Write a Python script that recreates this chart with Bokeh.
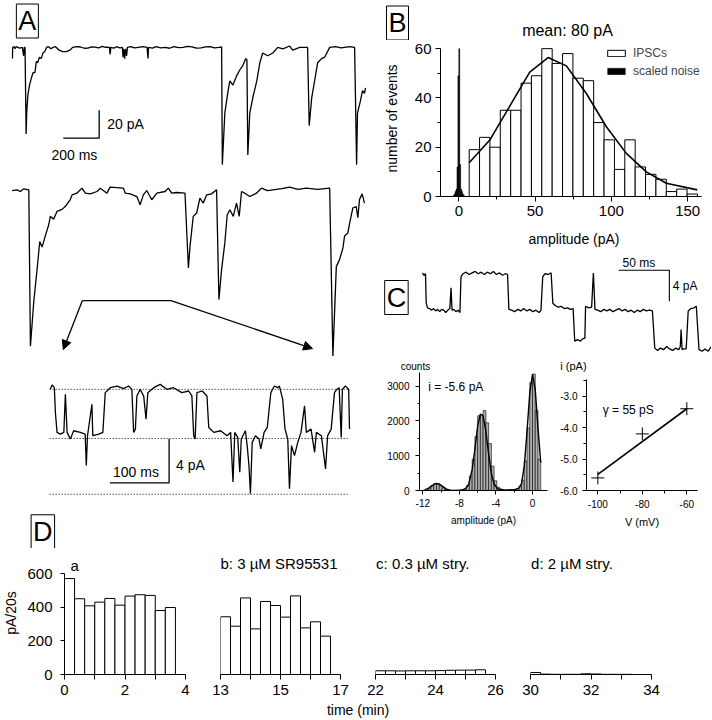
import numpy as np
from bokeh.plotting import figure
from bokeh.models import (Range1d, Label, FixedTicker, Legend, LegendItem,
                          Arrow, NormalHead, PrintfTickFormatter)
from bokeh.layouts import row, column
from bokeh.embed import file_html
from bokeh.resources import INLINE

FONT = "Liberation Sans"

# ======================= DATA =======================
# Panel A: IPSC traces (time in ms, current in pA)
A_ROW1 = [(0,-8),(1,0),(10,0.5),(14,-1),(20,0.5),(40,-0.5),(55,0),(62,-6),(66,0),(70,0),
          (76,-62),(80,-45),(86,-34),(95,-27),(105,-22),(115,-18),(125,-18),(133,-10),(140,-11),
          (150,-7),(160,-8),(170,-4),(180,-3),(190,0),(200,0.5),(215,-1),(225,0),(240,0.5),
          (260,-2),(280,-3),(300,-3),(320,-2),(335,0),(360,0.5),(380,0.3),(400,-0.6),(420,-0.5),
          (440,0.4),(460,0.2),(480,-0.4),(500,0.8),(520,0.1),(540,0),(544,-5),(548,0),(565,-0.5),
          (580,0.5),(598,-0.3),(612,0),(616,-7),(620,-1),(625,-8),(630,-1),(636,-6),(640,0),
          (660,0.5),(680,-0.4),(700,0),(725,0.6),(750,0),(755,-8),(758,0),(780,-0.5),(800,0.5),
          (825,-0.3),(850,0),(875,-0.6),(900,0.6),(925,-0.2),(950,0),(975,0.7),(1000,0.4),
          (1025,-0.5),(1050,-0.3),(1075,0.4),(1100,0.5),(1125,-0.4),(1150,0),(1165,0.3),
          (1169,-84),(1183,-47),(1200,-32),(1211,-24),(1228,-27),(1250,-20),(1267,-16),
          (1283,-13),(1300,-8),(1306,-9),(1311,-77),(1322,-47),(1339,-36),(1361,-24),(1378,-11),
          (1394,-4),(1422,-6),(1450,-4),(1478,0),(1506,-1),(1544,1),(1561,-2),(1600,0),(1644,0),
          (1653,-56),(1667,-36),(1683,-24),(1700,-11),(1722,-8),(1739,-7),(1767,0),(1800,0.5),
          (1830,-0.4),(1850,0),(1880,0.5),(1906,0),(1917,-84),(1922,-47),(1939,-38),(1950,-31),
          (1961,-33),(1967,-29)]
A_ROW2 = [(-2,-0.5),(26,0),(44,-1.2),(63,0.7),(91,0),(100,-112),(118,-81),(137,-57),(152,-37),
          (165,-41),(183,-33),(202,-25),(211,-19),(229,-21),(248,-15.5),(276,-14),(294,-12),
          (322,-7),(332,-3.6),(359,-2.4),(387,1.2),(406,-2.4),(433,-2.9),(471,-1.2),(489,1.2),
          (526,-2.4),(544,1.9),(618,1.2),(628,-2.4),(656,-2.9),(693,-4.8),(711,-10.7),(729,-3.6),
          (748,-0.5),(776,-7.1),(804,-2.4),(850,-1.2),(868,1.2),(887,-2.4),(915,-1.9),(961,-2.4),
          (980,-56),(989,-40.5),(1007,-19),(1026,-16.6),(1044,-5.9),(1063,-9.5),(1082,-3.6),
          (1109,-2.9),(1137,0),(1150,-78.6),(1165,-57),(1183,-38),(1196,-18),(1211,-14.3),
          (1230,-19),(1248,-9.5),(1263,-19),(1276,-1.2),(1294,-2.4),(1322,-4.8),(1359,-2.4),
          (1387,1.2),(1420,-0.6),(1452,0),(1500,0.8),(1544,1.9),(1590,0.4),(1637,1.2),
          (1700,0.3),(1767,1.2),(1785,-119),(1804,-55),(1822,-50),
          (1841,-41.6),(1850,-33),(1868,-31),(1878,-24),(1896,-13),(1915,-12),(1924,-20),
          (1933,-7),(1948,-2.9),(1961,-9.5)]
A_ROW2_OFFSET = -102          # vertical offset of the second sweep (pA)
A_ZOOM = [(1.2,0),(4,0.4),(8,0.15),(9.7,-2.1),(12.5,-3.9),(18,-4.05),(24,-3.9),(26.6,-0.45),
          (29.5,-3.9),(35,-4.5),(40.6,-3.75),(52,-3.9),(60,-4.05),(62,-6.9),(64,-4.2),(71.5,-1.35),
          (73,-4.2),(83,-4.05),(90,-3.9),(94,-0.3),(102.5,0.15),(114,0.3),(125,0.06),(133.5,0.3),
          (139,0),(142,-3.9),(145,-3.6),(147.5,-0.6),(153,0),(159,-0.6),(163,-2.7),(166,-0.3),
          (176,0.15),(187,0.45),(198,0),(209.5,0.15),(223.5,-0.3),(235,-0.15),(240.5,-0.6),
          (243.6,-4.2),(246,-4.5),(249,-0.3),(258,-0.15),(266,-0.6),(269,-3.45),(277.5,-3.9),
          (289,-3.75),(300,-4.2),(306,-3.9),(310,-8.4),(313,-3.9),(318,-4.35),(321.5,-7.5),
          (324,-4.5),(331,-3.75),(334,-5.1),(337,-6.9),(339.5,-9.45),(342.5,-4.8),(348,-4.2),
          (354,-4.5),(357,-5.4),(362.6,-3.9),(368,-3.45),(374,-0.3),(380,0.3),(385.5,0.15),
          (388.5,0.3),(394,-0.9),(398,-3.6),(402.6,-4.5),(405.5,-9.0),(409,-5.1),(414,-6.0),
          (419.5,-4.8),(425,-3.9),(431,-1.5),(434,-3.9),(442,-3.6),(448,-5.7),(451,-3.9),
          (459.5,-4.2),(466.5,-7.2),(470,-4.2),(476,-3.6),(481.6,-0.3),(485.6,0),(489.5,0.15),
          (493,-4.35),(495,0),(500,0.3),(505.6,0),(507,-3.6)]
A_LEVELS = [0.0, -4.45, -9.5]  # open / one / two channel levels (pA)
A_LEVEL_SPAN = (0, 504)        # ms
A_SCALE1 = (283, -65, 200, 20)   # t0, i0, 200 ms, 20 pA
A_SCALE2 = (102, -8.47, 100, 4)  # 100 ms, 4 pA
A_ARROW_T = [389, 883]           # zoom window on second sweep (ms)
A_ARROW_I = -181.4
A_ARROW_TIPS = [(283, -216.4), (1672, -215.7)]

# Panel B: amplitude histogram
B_EDGES = [6.8, 13.6, 20.4, 27.2, 34.0, 40.8, 47.6, 54.4, 61.2, 68.0, 74.8, 81.6, 88.4,
           95.2, 102.0, 108.8, 115.6, 122.4, 129.2, 136.0, 142.8, 149.6, 156.4]
B_COUNTS = [19, 24, 20, 35, 35, 46, 49, 60, 54, 58, 48, 47, 30, 23, 11, 23, 12, 9, 7, 2, 3, 1]
B_NOISE_EDGES = [-3.6, -3.0, -2.4, -1.8, -1.2, -0.6, 0.0, 0.6, 1.2, 1.8, 2.4, 3.0, 3.6]
B_NOISE = [0.5, 1, 2, 3, 12, 49, 60, 13, 3, 2, 1, 0.5]
B_FIT = [(6.8,13.7),(20.3,22.9),(35.6,39),(46.5,50.5),(58.5,56.4),(70.5,53),(83.6,41.8),
         (96.7,28.3),(109.8,17.5),(122.9,10),(136,5.4),(156.3,2.7)]

# Panel C: single channel trace (ms, pA)
C_TRACE = [(0,0.2),(1.5,-0.1),(3,0.1),(3.7,-3.7),(5,-4.3),(7,-4.4),(9,-4.6),(11,-4.4),(13,-4.7),
           (15,-4.5),(17,-4.8),(19,-4.5),(21,-4.6),(23,-4.9),(25,-4.6),(27,-4.4),(28.2,-1.7),
           (29.2,-4.6),(31,-4.5),(33,-4.8),(35,-4.6),(37,-4.9),(38,-0.3),(40,0.1),(43,0.3),(46,0.0),
           (49,0.2),(52,0.4),(55,0.1),(58,0.3),(61,0.0),(64,0.3),(67,0.1),(70,0.4),(73,0.0),(76,0.2),
           (79,-0.1),(82,0.1),(84,0.0),(85.3,-4.5),(88,-4.6),(91,-4.8),(94,-4.5),(97,-4.7),
           (100,-4.4),(103,-4.7),(106,-4.5),(109,-4.8),(112,-4.6),(115,-4.9),(117,-4.6),
           (118.7,-0.3),(121,0.1),(124,0.0),(127,0.2),(128.7,-3.7),(131,-4.0),(134,-4.2),
           (137,-4.1),(140,-4.4),(143,-4.3),(146,-4.5),(148.7,-4.4),(150.3,-8.6),(153,-8.4),
           (156,-8.6),(158,-8.3),(160.3,-8.2),(161,-4.1),(164,-4.3),(167,-4.2),(168.7,0.2),
           (170.3,-4.5),(173,-4.6),(176,-4.8),(179,-4.5),(182,-4.7),(185,-4.5),(188,-4.8),
           (191,-4.6),(194,-4.4),(197,-4.7),(200,-4.5),(203,-4.8),(206,-4.6),(209,-4.9),
           (212,-4.6),(215,-4.8),(218,-4.5),(221,-4.7),(224,-4.6),(227,-4.7),(229.3,-9.5),
           (232,-9.8),(235,-9.5),(238,-9.7),(241,-9.3),(244,-9.6),(247,-9.8),(250,-9.5),
           (253,-9.7),(254.5,-9.3),(255.3,-7.1),(256.3,-9.7),(258,-9.6),(260.3,-9.6),
           (262.3,-4.7),(265,-4.4),(268,-4.3),(270.3,-4.1),(273,-9.7),(276,-9.9),(279,-9.6),
           (282,-9.9),(285,-9.3)]
C_SCALE = (193.7, 0.55, 50, 4)   # 50 ms, 4 pA
# all-points histogram: bins of 0.3 pA starting at -12 pA
C_HIST_START = -12.0
C_HIST_BIN = 0.3
C_HIST = [5, 15, 50, 130, 200, 195, 150, 80, 30, 10, 5, 5, 8, 10, 20, 50, 150, 420, 900,
          1550, 2150, 2180, 2300, 1950, 1350, 700, 280, 90, 30, 20, 15, 20, 20, 30, 60, 120,
          300, 850, 1800, 3100, 3350, 2300, 900]
C_FIT = [(-11.8,20),(-11.4,60),(-11.0,140),(-10.6,200),(-10.2,185),(-9.8,110),(-9.4,40),
         (-9.0,12),(-8.0,5),(-7.4,40),(-7.0,160),(-6.6,600),(-6.3,1200),(-6.0,1850),
         (-5.7,2200),(-5.4,2150),(-5.1,1700),(-4.8,1050),(-4.5,500),(-4.2,180),(-3.8,50),
         (-3.0,10),(-2.0,20),(-1.5,60),(-1.2,200),(-0.9,700),(-0.6,1700),(-0.3,2800),
         (0.0,3350),(0.3,2900),(0.6,1800),(0.9,800)]
IV_V = [-100, -80, -60]
IV_I = [-5.6, -4.2, -3.4]
IV_FIT_V = [-100, -60]
IV_FIT_I = [-5.49, -3.40]

# Panel D: charge per 20 s bins (pA/20s)
D_BIN = 1/3
D_T = [
    [0.0, 0.333, 0.667, 1.0, 1.333, 1.667, 2.0, 2.333, 2.667, 3.0, 3.333],
    [13.0, 13.333, 13.667, 14.0, 14.333, 14.667, 15.0, 15.333, 15.667, 16.0, 16.333],
    [22.0, 22.333, 22.667, 23.0, 23.333, 23.667, 24.0, 24.333, 24.667, 25.0, 25.333],
    [30.0, 30.333, 30.667, 31.0, 31.333, 31.667, 32.0, 32.333, 32.667, 33.0, 33.333],
]
D_VAL = [
    [570, 450, 408, 430, 452, 412, 466, 474, 470, 380, 398],
    [343, 287, 455, 271, 434, 410, 341, 467, 277, 313, 228],
    [22, 22, 21, 22, 22, 22, 23, 25, 26, 26, 28],
    [12, 2, 1, 1, 1, 4, 3, 1, 1, 1, 0],
]
D_RANGES = [(0, 4), (13, 17), (22, 26), (30, 34)]
D_TITLES = ["a", "b: 3 \u00b5M SR95531", "c: 0.3 \u00b5M stry.", "d: 2 \u00b5M stry."]

# ======================= LAYOUT HELPERS =======================
W_REF, H_REF = 712, 720
W_OUT, H_OUT = 711, 718
def Sx(v): return int(round(v * W_OUT / W_REF))
def Sy(v): return int(round(v * H_OUT / H_REF))

def mkfig(box, frame, xr, yr, xaxis=None, yaxis=None):
    x0, y0, x1, y1 = box
    fx0, fy0, fx1, fy1 = frame
    p = figure(width=Sx(x1) - Sx(x0), height=Sy(y1) - Sy(y0),
               x_range=Range1d(*xr), y_range=Range1d(*yr), title=None,
               toolbar_location=None, output_backend="svg",
               x_axis_location=xaxis, y_axis_location=yaxis,
               min_border_left=Sx(fx0) - Sx(x0), min_border_right=Sx(x1) - Sx(fx1),
               min_border_top=Sy(fy0) - Sy(y0), min_border_bottom=Sy(y1) - Sy(fy1))
    p.frame_align = False
    p.outline_line_color = None
    p.background_fill_color = "white"
    p.border_fill_color = "white"
    for g in p.grid:
        g.visible = False
    return p

def style_axis(ax, size="15px", tick_out=5, minor_out=3, label_size="14px",
               label_standoff=4, axis_label_standoff=10):
    ax.axis_line_color = "black"
    ax.axis_line_width = 1
    ax.major_tick_in = 0
    ax.major_tick_out = tick_out
    ax.minor_tick_in = 0
    ax.minor_tick_out = minor_out
    ax.major_tick_line_color = "black"
    ax.minor_tick_line_color = "black"
    ax.major_label_text_font = FONT
    ax.major_label_text_font_size = size
    ax.major_label_text_color = "black"
    ax.major_label_standoff = label_standoff
    ax.axis_label_text_font = FONT
    ax.axis_label_text_font_size = label_size
    ax.axis_label_text_font_style = "normal"
    ax.axis_label_text_color = "black"
    ax.axis_label_standoff = axis_label_standoff

def text(p, x, y, s, size, align="left", box=False, angle=0):
    kw = dict(x=x, y=y, text=s, text_font=FONT, text_font_size=size,
              text_align=align, text_baseline="middle", text_color="black", angle=angle)
    if box:
        kw.update(border_line_color="black", border_line_width=1, padding=2)
    p.add_layout(Label(**kw))

def scalebar(p, sb, down=False, lw=1.3):
    t0, i0, dt, di = sb
    i1 = i0 - di if down else i0 + di
    p.line([t0, t0 + dt, t0 + dt], [i0, i0, i1], line_color="black", line_width=lw)

TOP = 550   # bottom of upper block (reference pixels)
D_BOT = 703

# ======================= PANEL A =======================
A1 = mkfig((0, 0, 372, 365), (0, 0, 372, 365), (-66.7, 2000), (-227.1, 33.6))
r1t, r1i = zip(*A_ROW1)
A1.line(r1t, r1i, line_color="black", line_width=1.3)
r2t, r2i = zip(*A_ROW2)
A1.line(r2t, np.array(r2i) + A_ROW2_OFFSET, line_color="black", line_width=1.3)
scalebar(A1, A_SCALE1)
text(A1, 528, -55, "20 pA", "14px")
text(A1, 217, -77, "200 ms", "14px")
text(A1, 83, 18.9, "A", "27px", align="center", box=True)
A1.line(A_ARROW_T, [A_ARROW_I, A_ARROW_I], line_color="black", line_width=1.3)
for (ts, (te, ie)) in zip(A_ARROW_T, A_ARROW_TIPS):
    A1.add_layout(Arrow(end=NormalHead(size=9, fill_color="black", line_color="black"),
                        x_start=ts, y_start=A_ARROW_I, x_end=te, y_end=ie,
                        line_color="black", line_width=1.3))

A2 = mkfig((0, 365, 372, TOP), (0, 365, 372, TOP), (-83.1, 544.2),
           ((390 - TOP) / 11.1, 2.25))
for lv in A_LEVELS:
    A2.line(list(A_LEVEL_SPAN), [lv, lv], line_color="black", line_width=1,
            line_dash="1 2")
zt, zi = zip(*A_ZOOM)
A2.line(zt, zi, line_color="black", line_width=1.3)
scalebar(A2, A_SCALE2)
text(A2, 146, -7.5, "100 ms", "14px", align="center")
text(A2, 213.7, -6.85, "4 pA", "14px")
text(A2, -11.5, -12.9, "D", "27px", align="center", box=True)

# ======================= PANEL B =======================
BT = mkfig((372, 0, 712, 40), (372, 0, 712, 40), (372, 712), (40, 0))
text(BT, 398, 22.5, "B", "27px", align="center", box=True)
text(BT, 568, 30, "mean: 80 pA", "16px", align="center")

B = mkfig((372, 40, 712, 255), (441, 40, 708, 197), (-12, 163), (0, 157 / 2.48),
          xaxis="below", yaxis="left")
rb = B.quad(left=B_EDGES[:-1], right=B_EDGES[1:], bottom=0, top=B_COUNTS,
            fill_color="white", line_color="black", line_width=1)
rn = B.quad(left=B_NOISE_EDGES[:-1], right=B_NOISE_EDGES[1:], bottom=0, top=B_NOISE,
            fill_color="black", line_color="black", line_width=0.5)
fx, fy = zip(*B_FIT)
B.line(fx, fy, line_color="black", line_width=1.6)
style_axis(B.xaxis[0], axis_label_standoff=12)
style_axis(B.yaxis[0], axis_label_standoff=12)
B.xaxis.ticker = FixedTicker(ticks=[0, 50, 100, 150], minor_ticks=[25, 75, 125])
B.yaxis.ticker = FixedTicker(ticks=[0, 20, 40, 60], minor_ticks=[10, 30, 50])
B.xaxis.bounds = (-12, 159)
B.yaxis.bounds = (0, 60)
B.xaxis.axis_label = "amplitude (pA)"
B.yaxis.axis_label = "number of events"
leg = Legend(items=[LegendItem(label="IPSCs", renderers=[rb]),
                    LegendItem(label="scaled noise", renderers=[rn])],
             location=(Sx(606) - Sx(441), Sy(197) - Sy(78)),
             glyph_width=22, glyph_height=8, label_standoff=6, padding=0, margin=0,
             spacing=4, label_height=12, border_line_color=None,
             background_fill_alpha=0, label_text_font=FONT, label_text_font_size="12px")
B.add_layout(leg)

# ======================= PANEL C =======================
C_BOTTOM = 373
C = mkfig((372, 255, 712, C_BOTTOM), (372, 255, 712, C_BOTTOM), (-50.3, 285.3),
          ((275 - C_BOTTOM) / 7.75, 2.58))
ct, ci = zip(*C_TRACE)
C.line(ct, ci, line_color="black", line_width=1.3)
scalebar(C, C_SCALE, down=True, lw=1.1)
text(C, 213.7, 1.42, "50 ms", "12px", align="center")
text(C, 247, -1.42, "4 pA", "12px")
text(C, -25.7, -2.97, "C", "27px", align="center", box=True)
text(C, -6.9, -11.87, "counts", "10px", align="center")
text(C, 149, -11.87, "i (pA)", "11px", align="center")

CH = mkfig((372, C_BOTTOM, 556, TOP), (420, C_BOTTOM, 548, 491), (-12.36, 1.64),
           (0, (491 - C_BOTTOM) / 34.77 * 1000), xaxis="below", yaxis="left")
edges = C_HIST_START + C_HIST_BIN * np.arange(len(C_HIST) + 1)
CH.quad(left=edges[:-1], right=edges[1:], bottom=0, top=C_HIST,
        fill_color="#b0b0b0", line_color="black", line_width=0.6)
cfx, cfy = zip(*C_FIT)
CH.line(cfx, cfy, line_color="black", line_width=1.4)
style_axis(CH.xaxis[0], size="10px", tick_out=4, minor_out=2, label_size="10px",
           label_standoff=4, axis_label_standoff=5)
style_axis(CH.yaxis[0], size="10px", tick_out=4, minor_out=2, label_size="10px",
           label_standoff=6)
CH.xaxis.ticker = FixedTicker(ticks=[-12, -8, -4, 0], minor_ticks=[-10, -6, -2])
CH.yaxis.ticker = FixedTicker(ticks=[0, 1000, 2000, 3000], minor_ticks=[500, 1500, 2500])
CH.xaxis.formatter = PrintfTickFormatter(format="%d")
CH.yaxis.formatter = PrintfTickFormatter(format="%d")
CH.xaxis.axis_label = "amplitude (pA)"
text(CH, -11.4, 2980, "i = -5.6 pA", "12px")

IV = mkfig((556, C_BOTTOM, 712, TOP), (587, 380, 698, 491), (-105.1, -55.2), (-6.0, -2.47),
           xaxis="below", yaxis="left")
IV.line(IV_FIT_V, IV_FIT_I, line_color="black", line_width=1.6)
IV.scatter(IV_V, IV_I, marker="cross", size=13, line_color="black", line_width=1)
style_axis(IV.xaxis[0], size="10px", tick_out=4, minor_out=3, label_size="11px",
           label_standoff=5, axis_label_standoff=5)
style_axis(IV.yaxis[0], size="10px", tick_out=4, minor_out=3, label_size="11px",
           label_standoff=5)
IV.xaxis.ticker = FixedTicker(ticks=[-100, -80, -60], minor_ticks=[-90, -70])
IV.yaxis.ticker = FixedTicker(ticks=[-6, -5, -4, -3], minor_ticks=[-5.5, -4.5, -3.5, -2.5])
IV.xaxis.formatter = PrintfTickFormatter(format="%d")
IV.yaxis.formatter = PrintfTickFormatter(format="%.1f")
IV.xaxis.axis_label = "V (mV)"
text(IV, -97.8, -3.45, "\u03b3 = 55 pS", "12px")

# ======================= PANEL D =======================
D_TOPF = 553
D_BOXES = [((0, TOP, 200, D_BOT), (63, D_TOPF, 185, 676)),
           ((200, TOP, 358, D_BOT), (220, D_TOPF, 340, 676)),
           ((358, TOP, 513, D_BOT), (376, D_TOPF, 496, 676)),
           ((513, TOP, 712, D_BOT), (531, D_TOPF, 652, 676))]
D_TITLE_X = [0.34, 13.0, 22.02, 30.02]
D_TITLE_ALIGN = ["center", "left", "left", "left"]
dfigs = []
for k in range(4):
    box, fr = D_BOXES[k]
    p = mkfig(box, fr, D_RANGES[k], (0, (676 - D_TOPF) / 0.1683), xaxis="below",
              yaxis="left" if k == 0 else None)
    left = np.array(D_T[k])
    p.quad(left=left, right=left + D_BIN, bottom=0, top=D_VAL[k],
           fill_color="white", line_color="black", line_width=1)
    style_axis(p.xaxis[0], size="15px", tick_out=5, minor_out=5, label_standoff=5)
    a, b = D_RANGES[k]
    p.xaxis.ticker = FixedTicker(ticks=[a, a + 2, b], minor_ticks=[a + 1, a + 3])
    if k == 0:
        style_axis(p.yaxis[0], size="15px", tick_out=4, minor_out=2, label_size="14px",
                   label_standoff=8, axis_label_standoff=5)
        p.yaxis.ticker = FixedTicker(ticks=[0, 200, 400, 600])
        p.yaxis.bounds = (0, 600)
        p.yaxis.axis_label = "pA/20s"
    text(p, D_TITLE_X[k], 660 if k else 648, D_TITLES[k], "15px", align=D_TITLE_ALIGN[k])
    dfigs.append(p)

DL = mkfig((0, D_BOT, 712, 720), (0, D_BOT, 712, 720), (0, 712), (D_BOT, 720))
text(DL, 358, 711.5, "time (min)", "14px", align="center")

layout = column(
    row(column(A1, A2), column(BT, B, C, row(CH, IV))),
    row(*dfigs),
    DL,
)

open("out.html", "w").write(file_html(layout, INLINE))
